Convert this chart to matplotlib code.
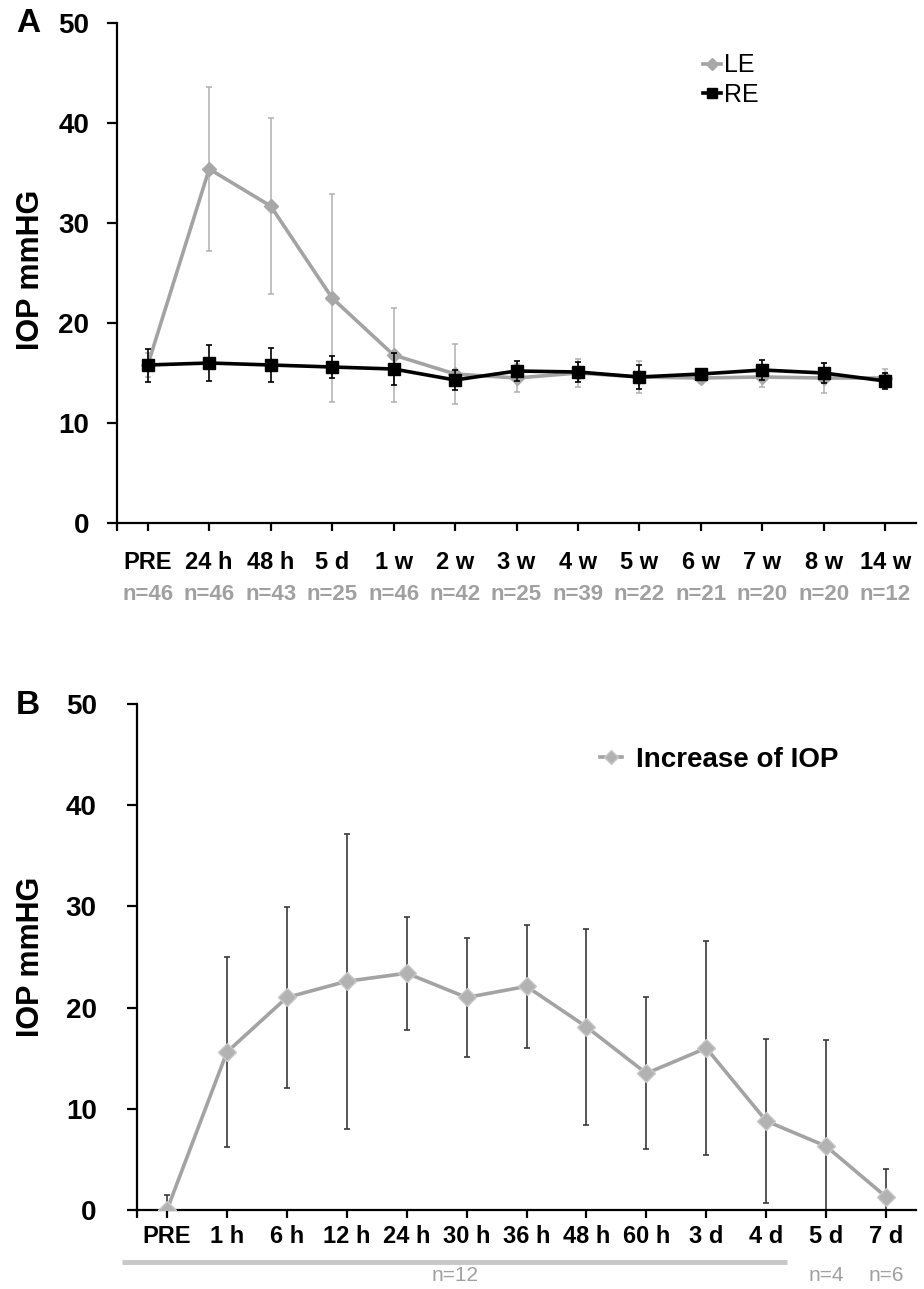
import matplotlib
matplotlib.use("Agg")
import matplotlib.pyplot as plt
from matplotlib.transforms import blended_transform_factory
import numpy as np

plt.rcParams['font.family'] = ['Liberation Sans', 'DejaVu Sans']

# panel A: LE / RE over 14 weeks
a_labels = ["PRE", "24 h", "48 h", "5 d", "1 w", "2 w", "3 w", "4 w", "5 w", "6 w", "7 w", "8 w", "14 w"]
a_counts = ["n=46", "n=46", "n=43", "n=25", "n=46", "n=42", "n=25", "n=39", "n=22", "n=21", "n=20", "n=20", "n=12"]
le_mean = [15.8, 35.4, 31.7, 22.5, 16.8, 14.9, 14.5, 15.0, 14.6, 14.5, 14.6, 14.5, 14.5]
le_err = [1.2, 8.2, 8.8, 10.4, 4.7, 3.0, 1.4, 1.4, 1.6, 0.5, 1.0, 1.5, 0.9]
re_mean = [15.8, 16.0, 15.8, 15.6, 15.4, 14.3, 15.2, 15.1, 14.6, 14.9, 15.3, 15.0, 14.2]
re_err = [1.65, 1.8, 1.7, 1.1, 1.6, 1.0, 1.0, 1.0, 1.2, 0.5, 1.0, 1.0, 0.8]

# panel B: increase of IOP over 7 days
b_labels = ["PRE", "1 h", "6 h", "12 h", "24 h", "30 h", "36 h", "48 h", "60 h", "3 d", "4 d", "5 d", "7 d"]
b_mean = [0.0, 15.6, 21.0, 22.6, 23.4, 21.0, 22.1, 18.1, 13.5, 16.0, 8.8, 6.3, 1.3]
b_err = [1.5, 9.4, 8.9, 14.6, 5.6, 5.9, 6.1, 9.7, 7.5, 10.6, 8.1, 10.5, 2.8]
b_groups = ["n=12", "n=4", "n=6"]

W, H = 924, 1289
fig = plt.figure(figsize=(W / 100, H / 100), dpi=100)

def px_axes(left, top, right, bottom):
    return fig.add_axes((left / W, 1 - bottom / H, (right - left) / W, (bottom - top) / H))

axA = px_axes(117, 23, 916, 523)
axB = px_axes(137, 704, 916, 1210)

LINE_GRAY = "#a3a3a3"

def style_axis(ax, labels, ypad, xpad):
    for s in ("top", "right"):
        ax.spines[s].set_visible(False)
    for s in ("left", "bottom"):
        ax.spines[s].set_linewidth(1.6)
        ax.spines[s].set_color("black")
    ax.set_ylim(0, 50)
    ax.set_yticks(range(0, 51, 10))
    ax.set_xlim(-0.5, 12.5)
    ax.set_xticks([-0.5] + list(range(len(labels))))
    ax.set_xticklabels([""] + labels, fontsize=17, fontweight="bold")
    ax.tick_params(axis="y", length=7, width=1.6, pad=ypad, labelsize=20)
    ax.tick_params(axis="x", length=6, width=1.6, pad=xpad)
    for t in ax.get_yticklabels():
        t.set_fontweight("bold")

# ---- A ----
x = np.arange(len(a_labels))
axA.errorbar(x, le_mean, yerr=le_err, color=LINE_GRAY, lw=2.6, marker="D", ms=7,
             mfc="#a8a8a8", mec="#a8a8a8", ecolor="#b0b0b0", elinewidth=1.1,
             capsize=2.5, capthick=1.1, label="LE", zorder=3)
axA.errorbar(x, re_mean, yerr=re_err, color="black", lw=2.6, marker="s", ms=8,
             mfc="black", mec="black", ecolor="black", elinewidth=1.2,
             capsize=2.5, capthick=1.2, label="RE", zorder=4)
style_axis(axA, a_labels, ypad=13, xpad=14)
trA = blended_transform_factory(axA.transData, axA.transAxes)
for xi, n in zip(x, a_counts):
    axA.text(xi, -0.142, n, transform=trA, ha="center", va="center",
             fontsize=16, fontweight="bold", color="#a0a0a0", clip_on=False)
handles, lbls = axA.get_legend_handles_labels()
handles = [h[0] for h in handles]
axA.legend(handles, lbls, loc="center left", bbox_to_anchor=(0.733, 0.886),
           frameon=False, fontsize=18, handlelength=0.75, handletextpad=0.1,
           labelspacing=0.2, borderaxespad=0, borderpad=0, markerscale=0.9)

# ---- B ----
xb = np.arange(len(b_labels))
axB.errorbar(xb, b_mean, yerr=b_err, fmt="none", ecolor="#3a3a3a", elinewidth=1.2,
             capsize=2.5, capthick=1.2, zorder=2)
axB.plot(xb, b_mean, color=LINE_GRAY, lw=2.6, marker="D", ms=9,
         mfc="#b2b2b2", mec="#c8c8c8", label="Increase of IOP", zorder=3)
style_axis(axB, b_labels, ypad=22, xpad=5)
trB = blended_transform_factory(axB.transData, axB.transAxes)
axB.plot([-0.75, 10.35], [-0.103, -0.103], transform=trB, color="#c8c8c8", lw=3.5,
         clip_on=False, solid_capstyle="butt")
for xi, n in zip([4.8, 11, 12], b_groups):
    axB.text(xi, -0.13, n, transform=trB, ha="center", va="center",
             fontsize=15, color="#a0a0a0", clip_on=False)
axB.legend(loc="center left", bbox_to_anchor=(0.594, 0.889), frameon=False,
           prop={"size": 20, "weight": "bold"}, handlelength=0.8, handletextpad=0.5,
           borderaxespad=0, borderpad=0, markerscale=0.8)

# labels and panel letters
fig.text(31 / W, 1 - 270 / H, "IOP mmHG", rotation=90, ha="center", va="center",
         fontsize=22, fontweight="bold")
fig.text(31 / W, 1 - 957 / H, "IOP mmHG", rotation=90, ha="center", va="center",
         fontsize=22, fontweight="bold")
fig.text(28 / W, 1 - 24 / H, "A", ha="center", va="center", fontsize=24, fontweight="bold")
fig.text(28 / W, 1 - 705 / H, "B", ha="center", va="center", fontsize=24, fontweight="bold")

fig.savefig("out.png", dpi=100)
